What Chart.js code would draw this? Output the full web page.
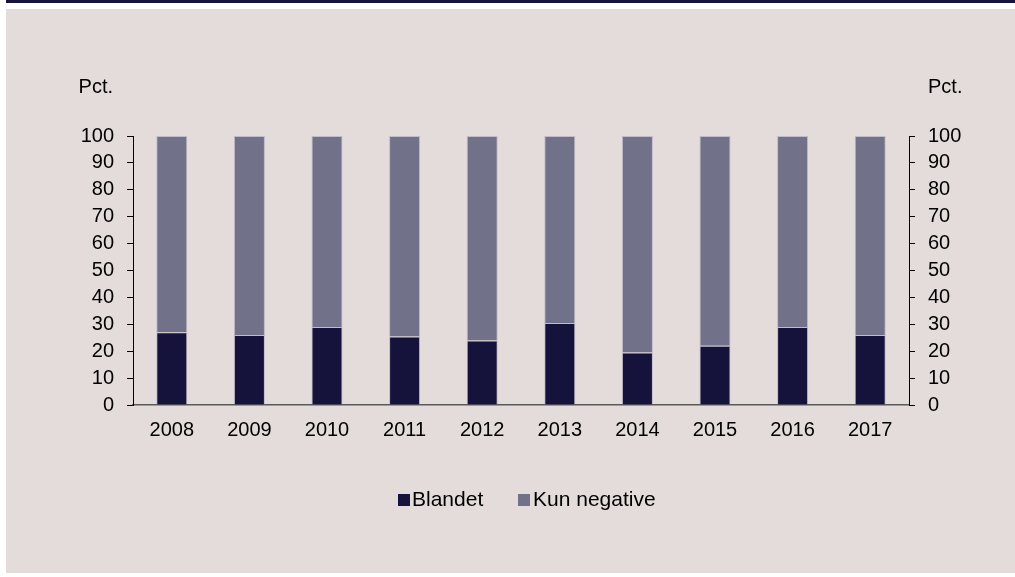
<!DOCTYPE html>
<html>
<head>
<meta charset="utf-8">
<script src="https://cdn.jsdelivr.net/npm/chart.js@4.4.1/dist/chart.umd.min.js"></script>
<style>
  html, body { margin: 0; padding: 0; background: #ffffff; }
  #wrap { width: 1015px; height: 577px; position: relative; }
</style>
</head>
<body>
<div id="wrap"><canvas id="c" width="1015" height="577"></canvas></div>
<script>
const categories = ["2008", "2009", "2010", "2011", "2012", "2013", "2014", "2015", "2016", "2017"];
const blandet = [27, 26, 29, 25.5, 24, 30.5, 19.5, 22, 29, 26];
const kunNegative = blandet.map(v => 100 - v);
const seriesNames = ["Blandet", "Kun negative"];
const yTicks = [0, 10, 20, 30, 40, 50, 60, 70, 80, 90, 100];
const unitLabel = "Pct.";

const FONT = "'Liberation Sans', Arial, sans-serif";

const bgPlugin = {
  id: 'bg',
  beforeDraw(chart) {
    const ctx = chart.ctx;
    ctx.save();
    ctx.fillStyle = '#ffffff';
    ctx.fillRect(0, 0, chart.width, chart.height);
    ctx.fillStyle = '#15133b';
    ctx.fillRect(6, 0, chart.width - 6, 3);
    ctx.fillStyle = '#e3dcda';
    ctx.fillRect(6, 9, chart.width - 6, 564);
    ctx.restore();
  },
  afterDraw(chart) {
    const ctx = chart.ctx;
    ctx.save();
    ctx.font = "20px " + FONT;
    ctx.fillStyle = '#000';
    ctx.textBaseline = 'middle';
    ctx.textAlign = 'right';
    ctx.fillText(unitLabel, 113, 87);
    ctx.textAlign = 'left';
    ctx.fillText(unitLabel, 928, 87);
    // legend
    const items = [{ bx: 398, tx: 412 }, { bx: 518, tx: 533 }];
    ctx.font = "21px " + FONT;
    chart.data.datasets.forEach((ds, i) => {
      const it = items[i];
      ctx.fillStyle = ds.backgroundColor;
      ctx.fillRect(it.bx, 494, 12, 12);
      ctx.fillStyle = '#000';
      ctx.fillText(ds.label, it.tx, 500);
    });
    ctx.restore();
  }
};

const yCommon = {
  min: 0, max: 100,
  afterBuildTicks(scale) { scale.ticks = yTicks.map(v => ({ value: v })); },
  ticks: { font: { size: 20, family: FONT }, color: '#000', padding: 13, autoSkip: false },
  grid: { drawOnChartArea: false, drawTicks: true, tickLength: 6, color: '#000', lineWidth: 1 },
  border: { display: true, color: '#000', width: 1 }
};

new Chart(document.getElementById('c'), {
  type: 'bar',
  data: {
    labels: categories,
    datasets: [
      { label: seriesNames[0], data: blandet, backgroundColor: '#15133b', borderColor: 'rgba(170,165,190,0.6)', borderWidth: 1, barPercentage: 0.4, categoryPercentage: 1, yAxisID: 'y' },
      { label: seriesNames[1], data: kunNegative, backgroundColor: '#717189', borderColor: 'rgba(170,165,190,0.6)', borderWidth: 1, barPercentage: 0.4, categoryPercentage: 1, yAxisID: 'y' }
    ]
  },
  options: {
    responsive: false,
    animation: false,
    devicePixelRatio: 1,
    layout: { padding: { left: 0, right: 0, top: 136, bottom: 119 } },
    scales: {
      x: {
        stacked: true,
        grid: { display: false, drawTicks: false },
        border: { display: true, color: '#595959', width: 1.5 },
        ticks: { font: { size: 20, family: FONT }, color: '#000', padding: 13, maxRotation: 0, autoSkip: false },
        afterFit(scale) { scale.height = 53; }
      },
      y: Object.assign({}, yCommon, { position: 'left', stacked: true, afterFit(scale) { scale.width = 133; } }),
      y2: Object.assign({}, yCommon, { position: 'right', afterFit(scale) { scale.width = 106; } })
    },
    plugins: {
      legend: { display: false },
      tooltip: { enabled: false }
    }
  },
  plugins: [bgPlugin]
});
</script>
</body>
</html>
